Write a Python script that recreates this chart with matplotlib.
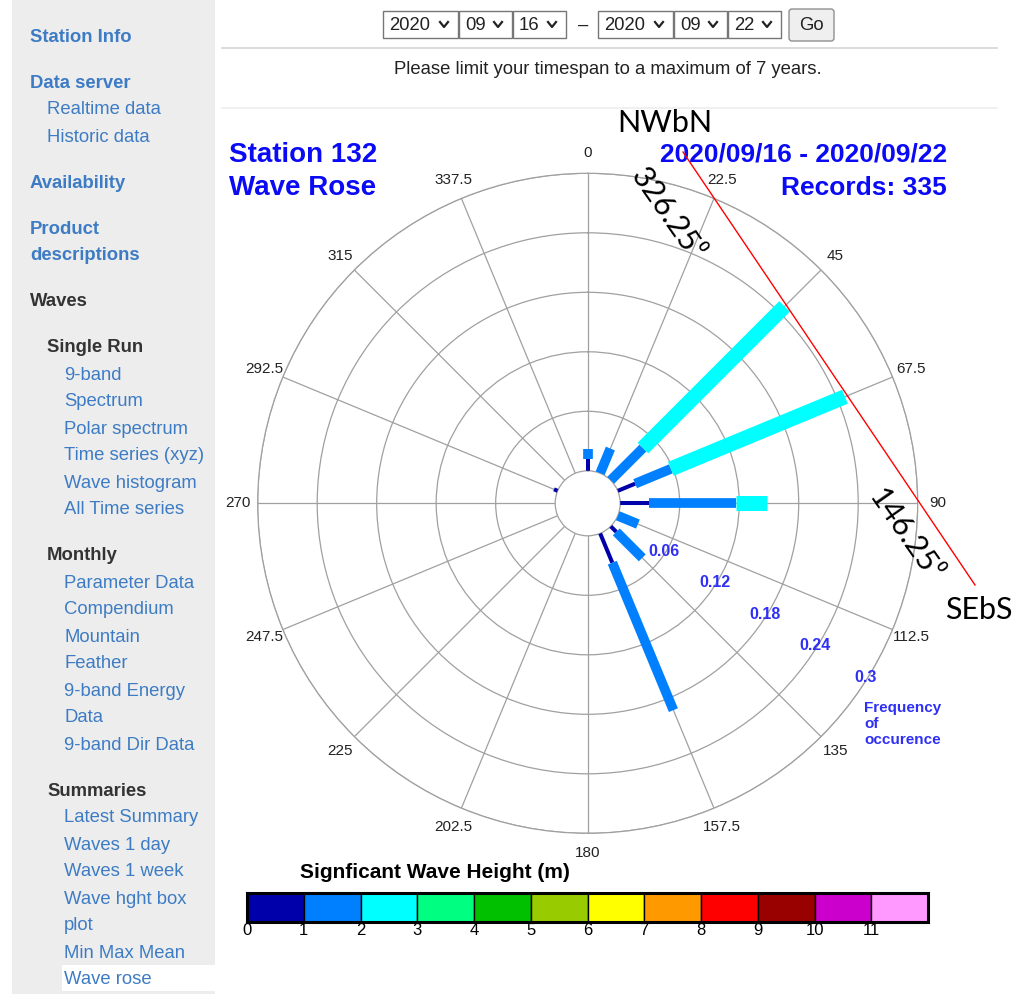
import numpy as np
import matplotlib.pyplot as plt
from matplotlib.patches import Rectangle, FancyBboxPatch

W, H = 1015, 994

# wave rose data: frequency of occurence per direction and height bin
directions = np.arange(0, 360, 22.5)
freq_0_1 = [0.012, 0.0, 0.0, 0.019, 0.029, 0.0, 0.008, 0.032,
            0.0, 0.0, 0.0, 0.0, 0.0, 0.004, 0.0, 0.0]
freq_1_2 = [0.010, 0.027, 0.046, 0.039, 0.088, 0.022, 0.037, 0.161,
            0.0, 0.0, 0.0, 0.0, 0.0, 0.0, 0.0, 0.0]
freq_2_3 = [0.0, 0.0, 0.202, 0.190, 0.031, 0.0, 0.0, 0.0,
            0.0, 0.0, 0.0, 0.0, 0.0, 0.0, 0.0, 0.0]
ring_ticks = [0.06, 0.12, 0.18, 0.24, 0.3]
theta_labels = ['{:g}'.format(d) for d in directions]

height_bins = list(range(12))
height_colors = ['#0000aa', '#0080ff', '#00ffff', '#00ff80', '#00c000', '#99cc00',
                 '#ffff00', '#ff9900', '#ff0000', '#990000', '#cc00cc', '#ff99ff']

# page text
sidebar = [
    [("Station Info", "head")],
    [("Data server", "head"), ("Realtime data", "link"), ("Historic data", "link")],
    [("Availability", "head")],
    [("Product", "head"), ("descriptions", "head")],
    [("Waves", "top")],
    [("Single Run", "sec"), ("9-band", "item"), ("Spectrum", "item"),
     ("Polar spectrum", "item"), ("Time series (xyz)", "item"),
     ("Wave histogram", "item"), ("All Time series", "item")],
    [("Monthly", "sec"), ("Parameter Data", "item"), ("Compendium", "item"),
     ("Mountain", "item"), ("Feather", "item"), ("9-band Energy", "item"),
     ("Data", "item"), ("9-band Dir Data", "item")],
    [("Summaries", "sec"), ("Latest Summary", "item"), ("Waves 1 day", "item"),
     ("Waves 1 week", "item"), ("Wave hght box", "item"), ("plot", "item"),
     ("Min Max Mean", "item"), ("Wave rose", "item")],
]
date_from = ["2020", "09", "16"]
date_to = ["2020", "09", "22"]

plt.rcParams['font.family'] = ['Liberation Sans', 'DejaVu Sans']
fig = plt.figure(figsize=(W / 100, H / 100), dpi=100)

# background page axes in pixel coordinates
bg = fig.add_axes([0, 0, 1, 1], zorder=0)
bg.set_xlim(0, W)
bg.set_ylim(H, 0)
bg.axis('off')

LINK = '#3d7cc4'
DARK = '#333333'
bg.add_patch(Rectangle((12, 0), 203, H, color='#ededed', lw=0))
styles = {
    "head": (30, 'bold', LINK), "link": (47, 'normal', LINK),
    "top": (30, 'bold', DARK), "sec": (47, 'bold', DARK), "item": (64, 'normal', LINK),
}
y = 35
for gi, group in enumerate(sidebar):
    if gi > 0:
        y += 46
    for li, (label, st) in enumerate(group):
        if li > 0:
            y += 27
        x, wt, col = styles[st]
        if label == "Wave rose":
            bg.add_patch(Rectangle((62, y - 13), 153, 26, color='white', lw=0))
        bg.text(x, y + 6.5, label, fontsize=13.3, fontweight=wt, color=col,
                va='baseline', ha='left')

# date selectors
def select_box(x0, x1, label):
    bg.add_patch(Rectangle((x0, 11), x1 - x0, 27, fc='white', ec='#767676', lw=1))
    bg.text(x0 + 6, 25, label, fontsize=13.3, color='#222', va='center', ha='left')
    cx = x1 - 14
    bg.plot([cx - 4, cx, cx + 4], [22, 27, 22], color='#222', lw=1.6)

box_edges = [(383, 458), (459, 512), (513, 566)]
for (a, b), lab in zip(box_edges, date_from):
    select_box(a, b, lab)
bg.text(583, 25, "–", fontsize=13.3, color='#222', va='center', ha='center')
box_edges2 = [(598, 673), (674, 727), (728, 781)]
for (a, b), lab in zip(box_edges2, date_to):
    select_box(a, b, lab)
bg.add_patch(FancyBboxPatch((789, 9), 45, 32, boxstyle='round,pad=0,rounding_size=3',
                            fc='#efefef', ec='#8f8f8f', lw=1))
bg.text(811, 25, "Go", fontsize=13.3, color='#222', va='center', ha='center')
bg.plot([222, 997], [48, 48], color='#d4d4d4', lw=1.2)
bg.text(608, 69, "Please limit your timespan to a maximum of 7 years.", fontsize=13.3,
        color='#222', va='center', ha='center')
bg.plot([222, 997], [108, 108], color='#eeeeee', lw=1.2)

# titles
BLUE = '#0a0af5'
bg.text(229, 155, "Station 132", fontsize=20, fontweight='bold', color=BLUE, va='center')
bg.text(229, 188, "Wave Rose", fontsize=20, fontweight='bold', color=BLUE, va='center')
bg.text(947, 155, "2020/09/16 - 2020/09/22", fontsize=19, fontweight='bold', color=BLUE,
        va='center', ha='right')
bg.text(947, 188, "Records: 335", fontsize=19, fontweight='bold', color=BLUE,
        va='center', ha='right')

# polar wave rose
cx, cy, R = 587.7, 503.3, 330
ax = fig.add_axes([(cx - R) / W, 1 - (cy + R) / H, 2 * R / W, 2 * R / H],
                  projection='polar', zorder=1)
ax.set_facecolor('none')
ax.set_theta_zero_location('N')
ax.set_theta_direction(-1)
ax.set_ylim(0, 0.3)
ax.set_rorigin(-0.0328)
ax.set_rticks(ring_ticks)
ax.set_yticklabels([])
ax.set_thetagrids(directions, theta_labels, fontsize=11, color='#222')
ax.tick_params(axis='x', pad=4)
ax.grid(color='#a0a0a0', lw=0.9)
for sp in ax.spines.values():
    sp.set_color('#a0a0a0')
    sp.set_linewidth(0.9)

stacks = [freq_0_1, freq_1_2, freq_2_3]
seg_widths = [2.9, 7.0, 10.8]
for i, d in enumerate(directions):
    base = 0.0
    for k, series in enumerate(stacks):
        v = series[i]
        if v > 0:
            ax.plot([np.radians(d)] * 2, [base, base + v], color=height_colors[k],
                    lw=seg_widths[k], solid_capstyle='butt', zorder=3)
        base += v

for r in ring_ticks:
    ax.text(np.radians(122), r - 0.002, '{:g}'.format(r), fontsize=11.5, fontweight='bold',
            color='#2f2ff5', ha='center', va='center', zorder=4)
bg.text(864, 724, "Frequency\nof\noccurence", fontsize=11, fontweight='bold',
        color='#2f2ff5', ha='left', va='center', linespacing=1.15)

# colour bar of significant wave height
cb = fig.add_axes([247 / W, 1 - 922 / H, (928 - 247) / W, 29 / H], zorder=1)
cb.bar(height_bins, [1] * len(height_bins), width=1, align='edge', color=height_colors,
       edgecolor='black', lw=1)
cb.set_xlim(0, 12)
cb.set_ylim(0, 1)
cb.set_yticks([])
cb.set_xticks(height_bins)
cb.set_xticklabels([str(b) for b in height_bins], fontsize=12)
cb.tick_params(axis='x', length=0, pad=1)
for sp in cb.spines.values():
    sp.set_linewidth(2.2)
bg.text(300, 873, "Signficant Wave Height (m)", fontsize=15, fontweight='bold',
        color='black', va='center', ha='left')

# overlay annotations
fg = fig.add_axes([0, 0, 1, 1], zorder=5)
fg.set_xlim(0, W)
fg.set_ylim(H, 0)
fg.axis('off')
fg.set_facecolor('none')
fg.plot([683, 975], [152, 585], color='red', lw=1)
ann = ['Lato', 'DejaVu Sans']
fg.text(617, 123, "NWbN", fontsize=22, family=ann, va='center', ha='left')
fg.text(979, 610, "SEbS", fontsize=22, family=ann, va='center', ha='center')
fg.text(667, 214, "326.25⁰", fontsize=22, family=ann, va='center', ha='center',
        rotation=-55, rotation_mode='anchor')
fg.text(905, 535, "146.25⁰", fontsize=22, family=ann, va='center', ha='center',
        rotation=-55, rotation_mode='anchor')

fig.savefig('out.png', dpi=100)
